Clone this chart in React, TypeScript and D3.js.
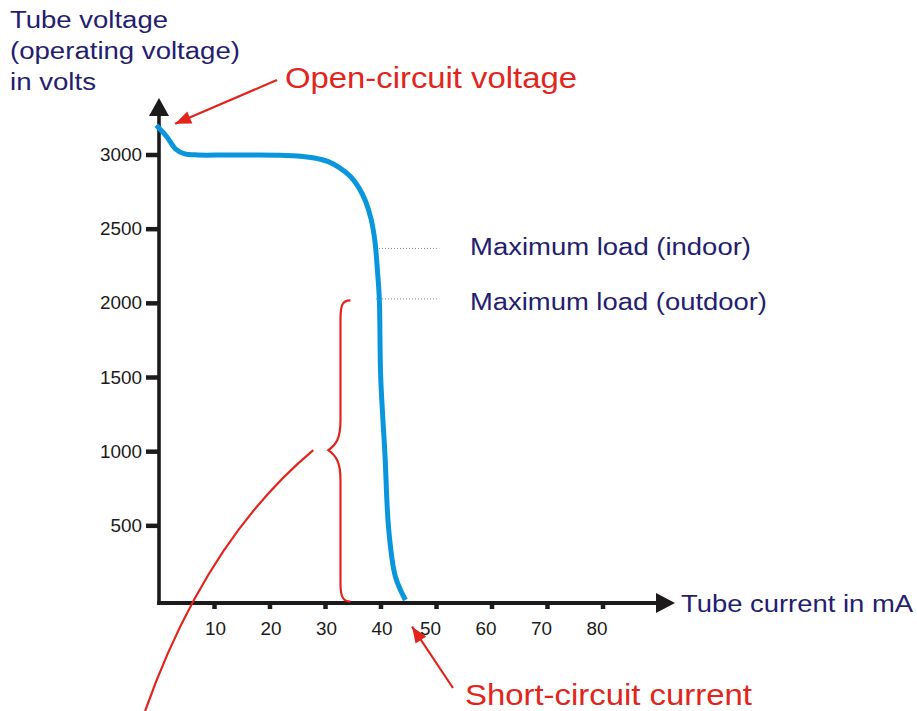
import React from "react";
import * as d3 from "d3";

// Characteristic curve: tube current (mA) vs tube voltage (V)
const currentMA = [-0.5, 1.4, 3.0, 4.5, 7, 12, 18, 22, 25, 28, 30.5, 32.5, 34.5, 36, 37.2, 38.2, 38.9, 39.4, 39.7, 39.95, 40.7, 41.4, 42.6, 44.4];
const voltageV = [3200, 3123, 3040, 3010, 3000, 3000, 3000, 2998, 2994, 2980, 2955, 2915, 2855, 2780, 2690, 2570, 2420, 2200, 2030, 1500, 990, 472, 157, 0];

const xTicks = [10, 20, 30, 40, 50, 60, 70, 80];
const yTicks = [500, 1000, 1500, 2000, 2500, 3000];

const yTitleLines = ["Tube voltage", "(operating voltage)", "in volts"];
const xTitle = "Tube current in mA";
const openCircuitLabel = "Open-circuit voltage";
const shortCircuitLabel = "Short-circuit current";
const maxLoadLabels = ["Maximum load (indoor)", "Maximum load (outdoor)"];
const maxLoadVoltages = [2370, 2030];

// Bracket (range of operating current) in data units
const bracketTopV = 2020;
const bracketMidV = 1010;
const bracketBottomV = -10;

const NAVY = "#241d70";
const RED = "#e2251c";
const BLUE = "#0996dc";
const BLACK = "#1c1a1a";
const FONT = "'Liberation Sans', Arial, Helvetica, sans-serif";

export default function App() {
  const x = d3.scaleLinear().domain([0, 80]).range([159, 603]);
  const y = d3.scaleLinear().domain([0, 3000]).range([600, 155]);

  const pts: [number, number][] = currentMA.map((c, i) => [c, voltageV[i]]);
  const line = d3
    .line<[number, number]>()
    .x((d) => x(d[0]))
    .y((d) => y(d[1]))
    .curve(d3.curveCatmullRom.alpha(0.5));

  const axisX0 = x(0);
  const axisY0 = y(0) + 3;

  // bracket path
  const bx = x(32.7);
  const bHook = x(34.5);
  const bTip = x(30.5);
  const bt = y(bracketTopV);
  const bm = y(bracketMidV);
  const bb = y(bracketBottomV);
  const bracket = d3.path();
  bracket.moveTo(bHook, bt);
  bracket.bezierCurveTo(bx + 1, bt, bx, bt + 6, bx, bt + 20);
  bracket.lineTo(bx, bm - 30);
  bracket.bezierCurveTo(bx, bm - 12, bx - 4, bm - 6, bTip, bm);
  bracket.bezierCurveTo(bx - 4, bm + 6, bx, bm + 12, bx, bm + 30);
  bracket.lineTo(bx, bb - 18);
  bracket.bezierCurveTo(bx, bb - 4, bx + 3, bb, bHook, bb);

  // long pointer curve from the bracket
  const pointer = d3.path();
  pointer.moveTo(x(27.8), y(1011));
  pointer.quadraticCurveTo(x(8.4), y(404), x(-2.5), y(-748));

  const arrowHead = (tx: number, ty: number, fx: number, fy: number, len = 16, half = 6.5) => {
    const a = Math.atan2(ty - fy, tx - fx);
    const bxp = tx - len * Math.cos(a);
    const byp = ty - len * Math.sin(a);
    const px = -Math.sin(a) * half;
    const py = Math.cos(a) * half;
    return `M${tx},${ty}L${bxp + px},${byp + py}L${bxp - px},${byp - py}Z`;
  };

  const ocTip: [number, number] = [x(2.9), y(3210)];
  const ocTail: [number, number] = [277, 80];
  const scTip: [number, number] = [x(45.6), y(-180)];
  const scTail: [number, number] = [453, 688];

  return (
    <svg width={917} height={711} style={{ position: "absolute", left: 0, top: 0, background: "#fff" }} fontFamily={FONT}>
      {/* Y title */}
      {yTitleLines.map((t, i) => (
        <text key={t} x={10} y={27.5 + i * 31} fontSize={23} fill={NAVY} textLength={[158, 230, 86][i]} lengthAdjust="spacingAndGlyphs">
          {t}
        </text>
      ))}

      {/* Axes */}
      <line x1={axisX0} y1={114} x2={axisX0} y2={axisY0 + 2} stroke={BLACK} strokeWidth={3.6} />
      <path d={`M${axisX0},98L${axisX0 - 10},116L${axisX0 + 10},116Z`} fill={BLACK} />
      <line x1={axisX0 - 1.8} y1={axisY0} x2={658} y2={axisY0} stroke={BLACK} strokeWidth={4} />
      <path d={`M675,${axisY0}L656,${axisY0 - 10}L656,${axisY0 + 10}Z`} fill={BLACK} />

      {yTicks.map((t) => (
        <g key={t}>
          <line x1={146} x2={axisX0} y1={y(t)} y2={y(t)} stroke={BLACK} strokeWidth={4.5} />
          <text x={142} y={y(t) + 6} fontSize={18} textAnchor="end" fill={BLACK} textLength={String(t).length * 10.5} lengthAdjust="spacingAndGlyphs">
            {t}
          </text>
        </g>
      ))}
      {xTicks.map((t) => (
        <g key={t}>
          <line x1={x(t)} x2={x(t)} y1={axisY0} y2={axisY0 + 6} stroke={BLACK} strokeWidth={4.5} />
          <text x={x(t) + (t >= 50 ? -6 : 1)} y={634.5} fontSize={18} textAnchor="middle" fill={BLACK} textLength={21} lengthAdjust="spacingAndGlyphs">
            {t}
          </text>
        </g>
      ))}
      <text x={681} y={612} fontSize={23} fill={NAVY} textLength={232} lengthAdjust="spacingAndGlyphs">
        {xTitle}
      </text>

      {/* max load dotted leaders */}
      {maxLoadVoltages.map((v, i) => (
        <g key={v}>
          <line x1={x(39.1)} x2={x(50.5)} y1={y(v)} y2={y(v)} stroke="#8a8a8a" strokeWidth={1} strokeDasharray="1,2" />
          <text x={470} y={[254.5, 309.5][i]} fontSize={23} fill={NAVY} textLength={[281, 297][i]} lengthAdjust="spacingAndGlyphs">
            {maxLoadLabels[i]}
          </text>
        </g>
      ))}

      {/* bracket and pointer */}
      <path d={bracket.toString()} fill="none" stroke={RED} strokeWidth={2.2} />
      <path d={pointer.toString()} fill="none" stroke={RED} strokeWidth={2.2} />

      {/* curve */}
      <path d={line(pts) ?? ""} fill="none" stroke={BLUE} strokeWidth={5} strokeLinecap="butt" />

      {/* annotations */}
      <line x1={ocTail[0]} y1={ocTail[1]} x2={ocTip[0]} y2={ocTip[1]} stroke={RED} strokeWidth={2.2} />
      <path d={arrowHead(ocTip[0], ocTip[1], ocTail[0], ocTail[1])} fill={RED} />
      <text x={285} y={88} fontSize={30} fill={RED} textLength={292} lengthAdjust="spacingAndGlyphs">
        {openCircuitLabel}
      </text>

      <line x1={scTail[0]} y1={scTail[1]} x2={scTip[0]} y2={scTip[1]} stroke={RED} strokeWidth={2.2} />
      <path d={arrowHead(scTip[0], scTip[1], scTail[0], scTail[1])} fill={RED} />
      <text x={465} y={705} fontSize={30} fill={RED} textLength={287} lengthAdjust="spacingAndGlyphs">
        {shortCircuitLabel}
      </text>
    </svg>
  );
}
